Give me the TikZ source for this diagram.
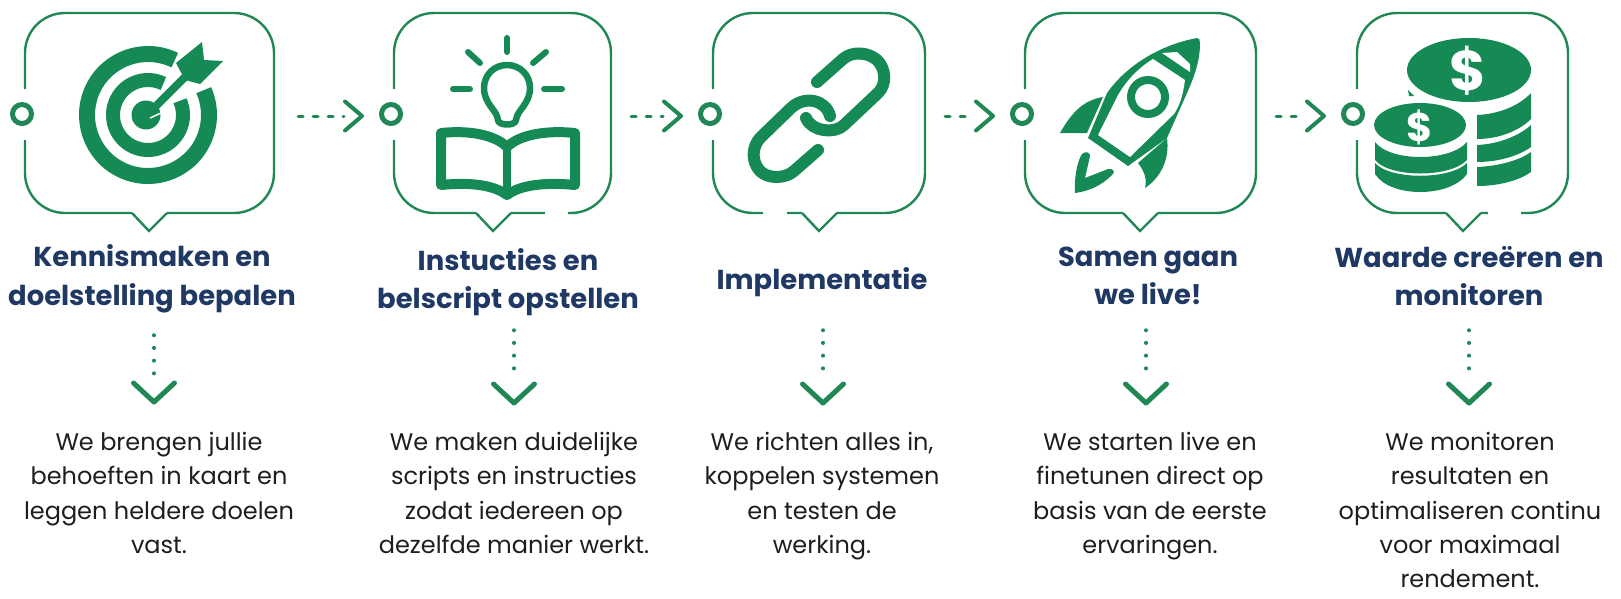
\documentclass[tikz,border=0pt]{standalone}
\usepackage{xcolor}
\usepackage{fontspec}
\setmainfont{Poppins}
\newfontfamily\kopFont{Poppins}[UprightFont=* Bold]

\begin{document}
\begin{tikzpicture}[x=1pt, y=-1pt,
    frame/.style={draw=lijnGroen, line width=2.4pt, rounded corners=40pt, minimum height=200pt, inner sep=0pt},
    ring/.style={circle, draw=lijnGroen, line width=5pt, minimum size=19pt, inner sep=0pt},
    kop/.style={text=kopBlauw, font=\kopFont\fontsize{27.4}{38.5}\selectfont, align=center, inner sep=0pt},
    tekst/.style={text=tekstZwart, font=\fontsize{24}{34.2}\selectfont, align=center, inner sep=0pt},
    flowarrow/.style={draw=lijnGroen, line width=3pt, line cap=round, dash pattern=on 5pt off 10pt, shorten <=19pt, shorten >=35pt},
    droparrow/.style={draw=lijnGroen, line width=3.5pt, line cap=round, dash pattern=on 0.5pt off 12.2pt, shorten >=27pt},
    icoon/.style={fill=icoonGroen, draw=none},
    icoonlijn/.style={draw=icoonGroen, line cap=round, line join=round},
    dollar/.style={text=white, inner sep=0pt},
    framegap/.pic={\fill[white] (-5,-24) rectangle (5,27);},
    pointer/.pic={
      \fill[white] (-17,-3) rectangle (18,3);
      \draw[lijnGroen, line width=2.4pt] (-17,0) -- (0,18) -- (18,0);
    },
    flowtip/.pic={\draw[lijnGroen, line width=4pt, line cap=round, line join=round] (-17,-14.5) -- (0,0) -- (-17,14.5);},
    droptip/.pic={\draw[lijnGroen, line width=5pt, line cap=round, line join=round] (-20.5,-19) -- (0,0) -- (20.5,-19);}]
  \definecolor{lijnGroen}{RGB}{32,135,85}
  \definecolor{icoonGroen}{RGB}{22,138,84}
  \definecolor{kopBlauw}{RGB}{31,56,100}
  \definecolor{tekstZwart}{RGB}{30,30,30}

  \useasboundingbox (0,0) rectangle (1621,598);

  % frames
  \node[frame, minimum width=249pt] (box1) at (149.5,113) {};
  \node[frame, minimum width=217pt] (box2) at (502.5,113) {};
  \node[frame, minimum width=212pt] (box3) at (819,113) {};
  \node[frame, minimum width=231pt] (box4) at (1140.5,113) {};
  \node[frame, minimum width=211pt] (box5) at (1462.5,113) {};

  \pic at (box1.west) {framegap};
  \pic at (box2.west) {framegap};
  \pic at (box3.west) {framegap};
  \pic at (box4.west) {framegap};
  \pic at (box5.west) {framegap};

  \pic at (149,213) {pointer};
  \pic at (493,213) {pointer};
  \pic at (819,213) {pointer};
  \pic at (1140,213) {pointer};
  \pic at (1463,213) {pointer};

  \fill[white] (545,210) rectangle (568,216);
  \fill[white] (763,210) rectangle (787,216);
  \fill[white] (1488,210) rectangle (1521,216);

  \node[ring] (ring1) at (22,114) {};
  \node[ring] (ring2) at (391,114) {};
  \node[ring] (ring3) at (710,114) {};
  \node[ring] (ring4) at (1022,114) {};
  \node[ring] (ring5) at (1353,114) {};

  \draw[flowarrow, shorten <=23pt] ([yshift=-3pt]box1.east) -- ([yshift=-2pt]ring2.west);
  \draw[flowarrow] ([yshift=-3pt]box2.east) -- ([yshift=-2pt]ring3.west);
  \draw[flowarrow] ([yshift=-3pt]box3.east) -- ([yshift=-2pt]ring4.west);
  \draw[flowarrow] ([yshift=-3pt]box4.east) -- ([yshift=-2pt]ring5.west);
  \pic at ([xshift=-17pt, yshift=-2pt]ring2.west) {flowtip};
  \pic at ([xshift=-17pt, yshift=-2pt]ring3.west) {flowtip};
  \pic at ([xshift=-17pt, yshift=-2pt]ring4.west) {flowtip};
  \pic at ([xshift=-17pt, yshift=-2pt]ring5.west) {flowtip};

  % target
  \draw[icoonlijn, line width=16pt, line cap=butt] (148,115) ++(-64:61) arc[start angle=-64, end angle=-384, radius=61];
  \draw[icoonlijn, line width=14pt, line cap=butt] (148,115) ++(-64:35) arc[start angle=-64, end angle=-384, radius=35];
  \fill[icoon] (146,115) circle[radius=14.5];
  \draw[icoonlijn, line width=8pt, line cap=butt] (146,116) -- (185,77);
  \fill[icoon] (176,63) -- (202,42) -- (204,60) -- (223,61) -- (200,84) -- (185,80) -- cycle;
  \draw[white, line width=1.5pt] (150,118) -- (161,113);

  % book and bulb
  \draw[icoonlijn, line width=6.5pt] (498,120) .. controls (497,110) and (484,104) .. (484,88) .. controls (484,75) and (494,65) .. (507,65) .. controls (520,65) and (530,75) .. (530,88) .. controls (530,104) and (517,110) .. (516,120) .. controls (516,126) and (498,126) .. (498,120) -- cycle;
  \draw[icoonlijn, line width=6pt] (507,38) -- (507,52);
  \draw[icoonlijn, line width=6pt] (468,52) -- (480,63);
  \draw[icoonlijn, line width=6pt] (533,63) -- (546,52);
  \draw[icoonlijn, line width=6pt] (453,89) -- (470,89);
  \draw[icoonlijn, line width=6pt] (544,89) -- (562,89);
  \draw[icoonlijn, line width=10pt] (441,133) .. controls (470,130) and (495,135) .. (507,147) .. controls (519,135) and (545,130) .. (575,133) -- (575,185) .. controls (545,182) and (520,185) .. (507,195) .. controls (494,185) and (470,182) .. (441,185) -- cycle;
  \draw[icoonlijn, line width=8pt] (507,147) -- (507,195);

  % chain
  \draw[icoonlijn, line width=12pt] (817,82) -- (843,59) .. controls (852,51) and (868,52) .. (877,60) .. controls (886,69) and (887,84) .. (878,93) -- (844,125) .. controls (835,134) and (812,132) .. (806,118);
  \draw[icoonlijn, line width=12pt] (818,150) -- (794,171) .. controls (785,179) and (768,179) .. (760,171) .. controls (751,161) and (752,147) .. (760,138) -- (791,108) .. controls (805,95) and (826,100) .. (830,116);

  % rocket
  \fill[icoon] (1197,38) .. controls (1160,45) and (1127,65) .. (1107,93) -- (1088,138) -- (1128,166) -- (1167,138) -- (1187,93) .. controls (1195,75) and (1200,60) .. (1200,43) .. controls (1200,40) and (1199,38) .. (1197,38) -- cycle;
  \fill[white] (1153,59) -- (1185,80) .. controls (1183,95) and (1180,105) .. (1174,114) -- (1130,157) -- (1098,135) -- (1117,97) .. controls (1125,82) and (1138,68) .. (1153,59) -- cycle;
  \fill[white] (1162,53) -- (1177,52) -- (1190,64) -- (1190,72) -- cycle;
  \draw[icoonlijn, line width=8pt] (1148,97) circle[radius=17];
  \fill[icoon] (1060,133) .. controls (1073,110) and (1085,100) .. (1103,97) -- (1087,133) -- cycle;
  \fill[icoon] (1138,163) -- (1167,138) .. controls (1170,160) and (1160,178) .. (1145,188) .. controls (1147,180) and (1145,172) .. (1138,163) -- cycle;
  \fill[icoon] (1075,193) .. controls (1074,175) and (1078,160) .. (1082,154) .. controls (1085,151) and (1090,152) .. (1090,156) -- (1085,178) -- (1108,169) .. controls (1113,168) and (1116,172) .. (1112,175) .. controls (1102,185) and (1090,191) .. (1075,193) -- cycle;

  % coins
  \fill[icoon] (1469,70) ellipse[x radius=62, y radius=32];
  \fill[icoon] (1408,90) -- (1414,96) -- (1409,96) -- cycle;
  \fill[icoon] (1477,115) .. controls (1500,114) and (1520,105) .. (1531,93) -- (1531,119) .. controls (1520,130) and (1500,139) .. (1477,139) -- cycle;
  \fill[icoon] (1477,145) .. controls (1500,144) and (1520,135) .. (1531,125) -- (1531,147) .. controls (1520,155) and (1500,162) .. (1477,162) -- cycle;
  \fill[icoon] (1477,167) .. controls (1500,166) and (1520,160) .. (1531,152) -- (1531,172) .. controls (1520,180) and (1500,186) .. (1477,186) -- cycle;
  \fill[icoon] (1420,125) ellipse[x radius=46, y radius=22];
  \fill[icoon] (1375,142) .. controls (1390,162) and (1450,162) .. (1467,142) -- (1467,160) .. controls (1450,178) and (1390,178) .. (1375,160) -- cycle;
  \fill[icoon] (1375,163) .. controls (1390,180) and (1450,180) .. (1467,163) -- (1467,174) .. controls (1450,198) and (1390,198) .. (1375,174) -- cycle;
  \node[dollar, font=\kopFont\fontsize{56}{56}\selectfont] (dollar1) at (1468,71) {\$};
  \node[dollar, font=\kopFont\fontsize{40}{40}\selectfont] (dollar2) at (1420,127) {\$};

  % headings
  \node[kop] (head1) at (152,279) {Kennismaken en\\doelstelling bepalen};
  \node[kop] (head2) at (508,282) {Instucties en\\belscript opstellen};
  \node[kop] (head3) at (822,282) {Implementatie};
  \node[kop] (head4) at (1148,276) {Samen gaan\\we live!};
  \node[kop] (head5) at (1469,276) {Waarde creëren en\\monitoren};

  % descriptions
  \node[tekst] (text1) at (159,493) {We brengen jullie\\behoeften in kaart en\\leggen heldere doelen\\vast.};
  \node[tekst] (text2) at (514,493) {We maken duidelijke\\scripts en instructies\\zodat iedereen op\\dezelfde manier werkt.};
  \node[tekst] (text3) at (822,496) {We richten alles in,\\koppelen systemen\\en testen de\\werking.};
  \node[tekst] (text4) at (1150,496) {We starten live en\\finetunen direct op\\basis van de eerste\\ervaringen.};
  \node[tekst] (text5) at (1470,510) {We monitoren\\resultaten en\\optimaliseren continu\\voor maximaal\\rendement.};

  % drops
  \coordinate (dropA1) at (154,335);
  \coordinate (dropB1) at (154,402);
  \coordinate (dropA2) at (514,330);
  \coordinate (dropB2) at (514,403);
  \coordinate (dropA3) at (823,330);
  \coordinate (dropB3) at (823,403);
  \coordinate (dropA4) at (1146,330);
  \coordinate (dropB4) at (1146,403);
  \coordinate (dropA5) at (1469,330);
  \coordinate (dropB5) at (1469,403);
  \draw[droparrow] (dropA1) -- (dropB1);
  \draw[droparrow] (dropA2) -- (dropB2);
  \draw[droparrow] (dropA3) -- (dropB3);
  \draw[droparrow] (dropA4) -- (dropB4);
  \draw[droparrow] (dropA5) -- (dropB5);
  \pic at (dropB1) {droptip};
  \pic at (dropB2) {droptip};
  \pic at (dropB3) {droptip};
  \pic at (dropB4) {droptip};
  \pic at (dropB5) {droptip};
\end{tikzpicture}
\end{document}
